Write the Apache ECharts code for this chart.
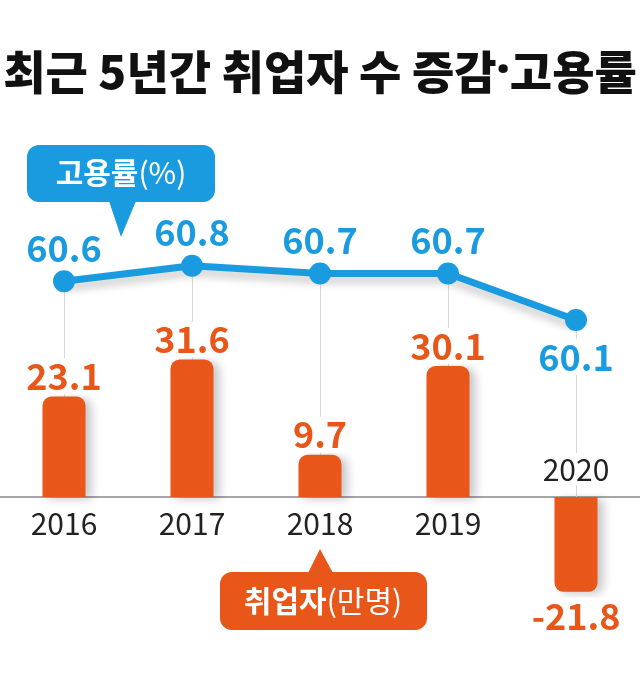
<!DOCTYPE html>
<html><head><meta charset="utf-8">
<script src="https://cdn.jsdelivr.net/npm/echarts@6/dist/echarts.min.js"></script>
<style>html,body{margin:0;padding:0;background:#fff}#c{width:640px;height:683px}</style>
</head><body><div id="c"></div>
<script>
const titleParts = ['최근 5년간 취업자 수 증감', '·', '고용률'];
const years = ['2016', '2017', '2018', '2019', '2020'];
const employedChange = [23.1, 31.6, 9.7, 30.1, -21.8];   // 취업자 증감 (만명)
const employmentRate = [60.6, 60.8, 60.7, 60.7, 60.1];   // 고용률 (%)
const rateLegend = ['고용률', '(%)'];
const barLegend = ['취업자', '(만명)'];

const BLUE = '#1a9be0', ORANGE = '#e8561a';
const FONT = '"Noto Sans CJK KR", "Noto Sans", sans-serif';
const bMin = -25, bMax = 90;
const lMin = 56.413, lMax = 62.868;
const gridTop = 105.5, gridBottom = 77.25, H = 683;
const gridH = H - gridTop - gridBottom;
const zeroOffset = -gridH * (0 - bMin) / (bMax - bMin);
const zeroOnLine = lMin + (0 - bMin) / (bMax - bMin) * (lMax - lMin);

const chart = echarts.init(document.getElementById('c'));
chart.setOption({
  backgroundColor: '#fff',
  animation: false,
  title: {
    text: '{a|' + titleParts[0] + '}{d|' + titleParts[1] + '}{a|' + titleParts[2] + '}',
    left: 'center', top: 44,
    textStyle: {
      rich: {
        a: { fontFamily: FONT, fontSize: 46, fontWeight: 900, color: '#111' },
        d: { fontFamily: '"Noto Sans", sans-serif', fontSize: 46, fontWeight: 900, color: '#111' }
      }
    }
  },
  grid: { left: 0, right: 0, top: gridTop, bottom: gridBottom, containLabel: false },
  xAxis: [{
    type: 'category', data: years, position: 'bottom', offset: zeroOffset,
    axisLine: { onZero: false, lineStyle: { color: '#888', width: 1.5 } },
    axisTick: { show: false },
    axisLabel: {
      margin: 12, fontFamily: FONT, fontSize: 30, color: '#222',
      formatter: (v, i) => employedChange[i] < 0 ? '' : v
    }
  }, {
    type: 'category', data: years, position: 'bottom', offset: zeroOffset, z: 10,
    axisLine: { show: false, onZero: false },
    axisTick: { show: false },
    axisLabel: {
      inside: true, margin: 12,
      formatter: (v, i) => employedChange[i] < 0 ? '{w|' + v + '}' : '',
      rich: { w: { fontFamily: FONT, fontSize: 30, color: '#222', backgroundColor: '#fff', padding: [2, 4, 0, 4] } }
    }
  }],
  yAxis: [
    { type: 'value', min: bMin, max: bMax, show: false, splitLine: { show: false } },
    { type: 'value', min: lMin, max: lMax, show: false, splitLine: { show: false } }
  ],
  series: [{
    type: 'line', xAxisIndex: 0, yAxisIndex: 1, z: 3,
    data: employmentRate.map((v, i) => ({
      value: v,
      label: i === employmentRate.length - 1 ? { position: 'bottom', distance: 8, backgroundColor: '#fff' } : undefined
    })),
    symbol: 'circle', symbolSize: 22,
    itemStyle: { color: BLUE },
    lineStyle: { color: BLUE, width: 7, shadowColor: 'rgba(0,0,0,0.22)', shadowBlur: 8, shadowOffsetY: 6 },
    label: {
      show: true, position: 'top', distance: 4,
      fontFamily: FONT, fontSize: 36, fontWeight: 'bold', color: BLUE,
      formatter: p => p.value.toFixed(1)
    },
    markLine: {
      silent: true, symbol: 'none', z: 1,
      lineStyle: { color: '#d8d8d8', width: 1, type: 'solid' },
      label: { show: false },
      data: employmentRate.map((v, i) => [{ coord: [i, v] }, { coord: [i, zeroOnLine] }])
    }
  }, {
    type: 'bar', xAxisIndex: 0, yAxisIndex: 0, z: 4,
    barWidth: 43,
    data: employedChange.map(v => ({
      value: v,
      itemStyle: { borderRadius: v < 0 ? [0, 0, 9, 9] : [9, 9, 0, 0] },
      label: v < 0 ? { position: 'bottom', distance: 6 } : undefined
    })),
    itemStyle: { color: ORANGE, shadowColor: 'rgba(0,0,0,0.22)', shadowBlur: 10, shadowOffsetX: 6, shadowOffsetY: 2 },
    label: {
      show: true, position: 'top', distance: 2,
      fontFamily: FONT, fontSize: 36, fontWeight: 'bold', color: ORANGE,
      backgroundColor: '#fff', padding: [0, 2, 0, 2],
      formatter: p => p.value.toFixed(1)
    }
  }],
  graphic: [{
    type: 'group', z: 100,
    children: [
      { type: 'rect', shape: { x: 27, y: 145, width: 188, height: 57, r: 12 }, style: { fill: BLUE } },
      { type: 'polygon', shape: { points: [[109, 201], [136, 201], [121, 237]] }, style: { fill: BLUE } },
      { type: 'text', x: 121, y: 173, style: {
        text: '{b|' + rateLegend[0] + '}{n|' + rateLegend[1] + '}', align: 'center', verticalAlign: 'middle',
        rich: { b: { fontFamily: FONT, fontSize: 30, fontWeight: 'bold', fill: '#fff' },
                n: { fontFamily: FONT, fontSize: 30, fontWeight: 'normal', fill: '#fff' } }
      } }
    ]
  }, {
    type: 'group', z: 100,
    children: [
      { type: 'rect', shape: { x: 220, y: 572, width: 207, height: 58, r: 12 }, style: { fill: ORANGE } },
      { type: 'polygon', shape: { points: [[308, 573], [333, 573], [320, 549]] }, style: { fill: ORANGE } },
      { type: 'text', x: 323, y: 601, style: {
        text: '{b|' + barLegend[0] + '}{n|' + barLegend[1] + '}', align: 'center', verticalAlign: 'middle',
        rich: { b: { fontFamily: FONT, fontSize: 30, fontWeight: 'bold', fill: '#fff' },
                n: { fontFamily: FONT, fontSize: 30, fontWeight: 'normal', fill: '#fff' } }
      } }
    ]
  }]
});
</script>
</body></html>
